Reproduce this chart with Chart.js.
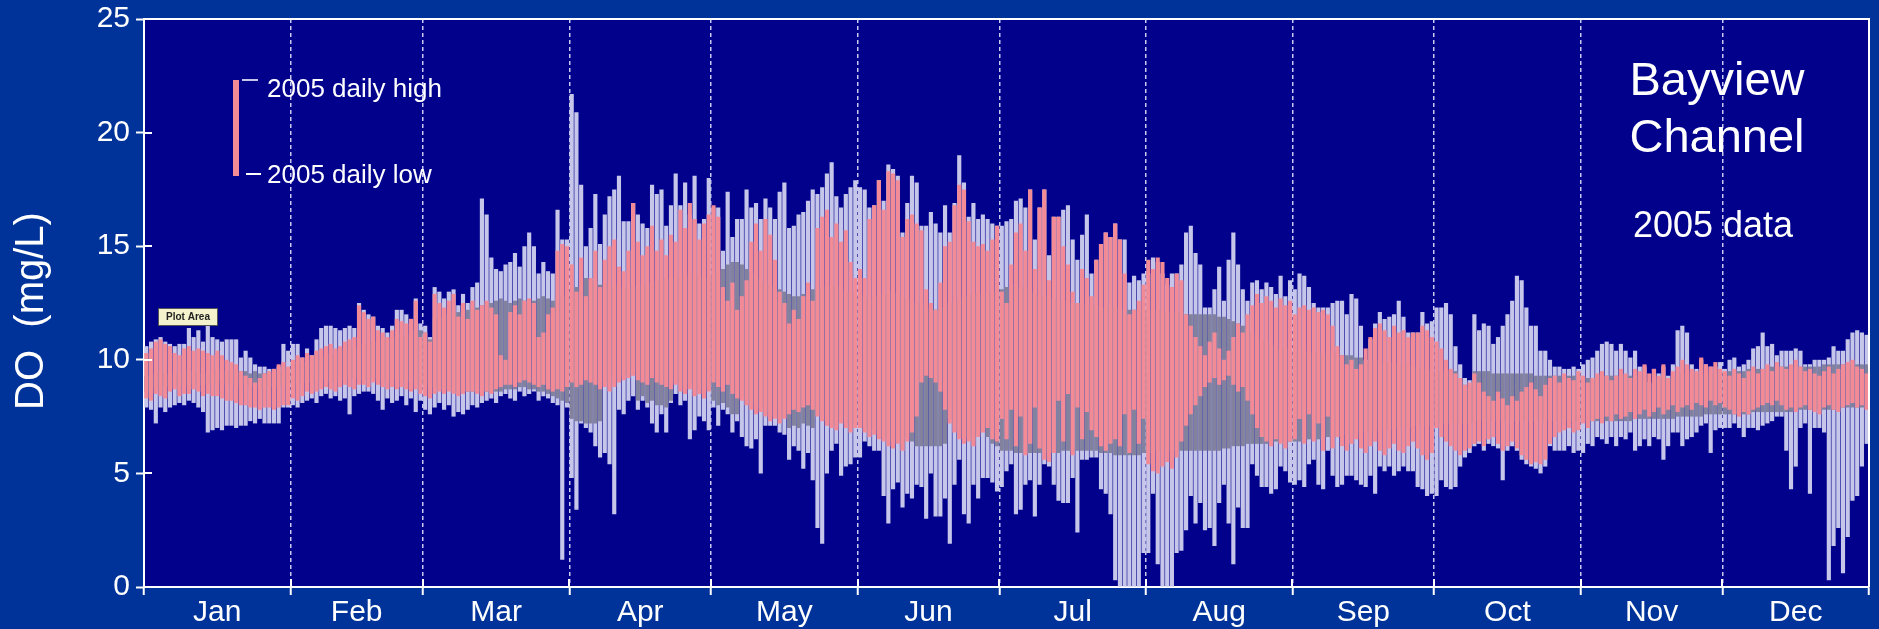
<!DOCTYPE html>
<html>
<head>
<meta charset="utf-8">
<script src="https://cdn.jsdelivr.net/npm/chart.js@4.4.0/dist/chart.umd.min.js"></script>
<style>
  html, body { margin: 0; padding: 0; background: #003399; }
  #wrap { width: 1879px; height: 629px; }
</style>
</head>
<body>
<div id="wrap"><canvas id="c" width="1879" height="629"></canvas></div>
<script>
// Dissolved oxygen, Bayview Channel: one bar per day of the year (mg/L)
const months = ['Jan','Feb','Mar','Apr','May','Jun','Jul','Aug','Sep','Oct','Nov','Dec'];
const monthStarts = [0,31,59,90,120,151,181,212,243,273,304,334,365];
const yTicks = [0,5,10,15,20,25];

// Long-term daily range (light band)
const rangeHigh = [
  10.6,10.8,10.9,11.0,10.8,10.7,10.6,10.7,10.7,11.4,11.0,11.3,10.8,11.5,11.0,10.9,10.8,10.9,10.9,10.9,10.1,10.4,10.1,9.8,9.7,9.7,9.6,9.6,9.7,10.7,10.4,
  10.7,10.7,10.1,10.5,10.2,10.9,11.4,11.5,11.5,11.4,11.3,11.4,11.5,11.4,12.5,12.2,12.0,11.9,11.5,11.4,11.2,11.5,12.2,12.2,12.0,11.8,12.7,11.6,
  11.5,11.0,13.2,13.0,12.7,13.0,13.1,12.4,12.9,12.5,13.2,13.4,17.1,16.4,14.5,14.0,13.9,14.2,14.3,14.7,14.1,15.0,15.6,15.0,13.8,14.3,13.9,13.8,16.6,15.3,15.3,
  21.7,20.9,17.7,15.0,15.8,17.3,15.1,16.4,17.2,17.5,18.1,16.1,16.1,16.9,16.4,16.0,15.8,17.7,17.3,17.5,15.9,16.8,18.2,16.8,17.8,16.4,18.1,16.0,16.2,18.0,
  16.7,16.7,14.8,17.4,15.4,16.2,16.2,17.5,16.7,16.9,16.2,17.1,16.7,16.2,17.4,17.8,15.8,15.9,16.4,16.5,17.0,17.5,17.3,17.6,18.2,18.7,17.2,16.7,17.3,17.6,17.9,
  17.6,17.5,16.7,16.8,17.9,17.0,18.6,18.4,18.1,15.6,16.9,18.1,17.8,15.9,15.9,16.5,16.0,15.6,16.8,15.6,16.9,19.0,17.8,16.3,16.9,16.2,16.4,16.2,16.0,15.9,
  15.9,16.1,16.2,17.0,17.1,16.7,17.5,15.3,16.7,17.5,14.6,16.3,16.3,16.6,16.8,15.3,14.4,15.5,16.4,13.8,14.4,15.1,15.6,15.4,16.0,15.3,15.3,13.4,13.7,13.5,13.8,
  13.8,14.5,14.3,13.8,13.3,13.8,13.8,14.2,15.6,15.9,14.7,14.2,12.3,12.3,13.1,14.1,12.6,14.4,15.6,14.2,13.1,12.6,13.4,13.5,13.1,13.4,13.2,12.9,13.7,12.8,13.5,
  13.1,13.8,13.7,13.2,12.5,12.3,12.3,12.3,12.5,12.6,12.6,12.0,12.9,12.7,11.5,10.0,10.9,11.6,12.1,11.8,11.9,12.0,12.6,11.9,11.2,11.2,11.2,12.1,11.6,11.7,
  12.3,12.3,12.5,12.0,10.6,9.8,9.2,9.1,12.0,11.3,11.6,11.5,10.7,11.0,11.5,12.0,12.6,13.7,13.5,12.3,11.5,11.5,10.4,10.4,10.0,9.7,9.7,9.6,9.6,9.7,9.6,
  9.8,10.0,10.1,10.4,10.7,10.8,10.7,10.4,10.7,10.4,10.1,10.4,9.7,9.7,9.0,9.6,9.4,9.7,9.3,9.8,11.3,11.5,11.2,9.8,9.6,10.0,9.8,9.7,9.7,9.9,
  9.6,10.0,10.1,9.7,9.8,10.0,10.5,10.6,11.2,10.6,10.7,10.2,10.4,10.4,10.4,10.5,10.4,9.8,9.8,10.0,10.0,10.0,10.1,10.6,10.4,10.4,10.9,11.2,11.3,11.2,11.1
];
const rangeLow = [
  7.9,7.8,7.2,7.9,7.7,7.9,8.0,8.1,8.0,8.2,8.1,7.9,7.7,6.8,6.9,7.0,6.9,7.1,7.1,7.0,7.1,7.1,7.3,7.2,7.4,7.2,7.2,7.2,7.2,7.9,7.9,
  8.0,7.9,8.1,8.2,8.3,8.1,8.4,8.5,8.3,8.4,8.2,8.3,7.6,8.4,8.5,8.6,8.6,8.5,8.2,7.8,8.3,8.1,8.2,8.4,8.0,8.3,7.7,8.2,
  7.8,7.6,7.9,8.1,7.8,8.0,7.5,7.7,7.6,7.8,8.0,7.9,8.1,8.2,8.3,8.1,8.4,8.5,8.3,8.2,8.6,8.4,8.5,8.6,8.2,8.4,8.3,8.1,8.0,1.2,7.9,
  4.8,3.4,7.2,7.0,6.8,6.2,5.7,5.9,5.4,3.2,7.8,7.6,8.2,8.4,7.8,8.2,7.9,7.2,6.8,7.6,6.8,8.1,8.5,8.0,8.2,6.5,6.9,7.5,7.3,6.9,
  7.9,7.1,7.8,7.6,6.8,7.3,6.6,6.2,6.1,6.5,5.0,7.1,7.1,7.1,6.8,6.7,5.6,6.2,6.0,5.2,5.9,4.7,2.6,1.9,5.0,6.0,6.3,4.9,5.3,5.4,5.7,
  5.7,6.4,6.2,6.0,6.0,4.0,2.8,4.3,4.6,3.5,4.1,3.9,4.5,4.4,3.0,5.0,3.1,3.1,3.9,1.9,4.5,5.6,3.2,2.8,4.5,3.9,4.8,4.8,4.6,4.2,
  4.4,5.1,5.4,3.2,3.4,4.5,4.7,3.1,4.5,5.4,5.3,4.5,3.8,3.7,3.7,4.8,2.4,5.6,5.6,5.7,5.7,4.3,4.1,3.2,0.3,0,0,0,0,0,1.5,
  1.5,4.1,1.0,0,0,0,1.5,1.6,2.5,4.0,2.8,3.7,2.5,2.6,1.8,3.7,4.5,2.8,1.0,3.5,2.6,2.6,5.4,4.9,4.4,4.4,4.1,4.3,5.3,5.1,4.6,
  4.5,4.7,4.4,5.4,5.6,4.5,4.3,6.0,4.9,4.4,4.5,4.9,4.9,4.7,4.5,4.4,4.9,4.1,5.3,5.1,5.3,4.9,5.1,5.3,5.1,5.1,4.4,4.3,4.0,4.1,
  4.0,4.7,4.4,4.3,4.4,5.3,5.7,5.9,6.2,6.3,6.0,6.3,6.2,6.1,4.7,6.0,6.2,6.0,5.6,5.4,5.3,5.2,5.0,5.3,6.2,6.0,6.0,6.0,6.2,5.9,6.0,
  5.9,6.3,6.2,6.6,6.5,6.3,6.6,6.2,6.6,6.5,6.8,6.0,6.2,6.5,6.2,6.6,6.5,5.6,6.2,6.8,6.8,6.2,6.5,6.6,6.8,7.1,7.2,5.9,6.9,7.0,
  7.0,7.0,7.2,7.0,6.6,7.0,7.0,6.9,7.1,7.2,7.3,7.5,7.5,6.0,4.3,5.3,7.0,7.2,4.1,7.0,7.0,6.8,0.3,1.8,2.6,0.6,2.2,3.8,4.0,5.3,6.3
];

// Middle band (dark grey)
const bandHigh = [
  9.3,9.4,9.4,9.5,9.4,9.3,9.4,9.5,9.5,9.6,9.5,9.4,9.5,9.4,9.5,9.6,9.5,9.5,9.6,9.6,9.5,9.5,9.4,9.5,9.4,9.4,9.4,9.5,9.5,9.6,9.6,
  9.8,9.9,9.9,10.0,10.0,10.1,10.2,10.2,10.3,10.3,10.4,10.4,10.5,10.5,10.6,10.7,10.7,10.8,10.8,10.9,10.9,11.0,11.0,11.1,11.1,11.2,11.3,11.3,
  11.2,10.9,11.8,11.9,12.0,12.0,12.1,12.1,12.2,12.2,12.3,12.3,12.4,12.5,12.5,12.6,12.7,12.6,12.5,12.6,12.7,12.6,12.5,12.6,12.7,12.8,12.7,12.6,12.7,12.8,12.9,
  13.0,13.2,13.5,13.6,13.5,13.4,13.3,13.4,13.3,13.3,13.2,13.1,13.2,13.3,13.2,13.3,13.4,13.4,13.5,13.5,13.6,13.5,13.6,13.7,13.7,13.8,13.8,13.7,13.6,13.6,
  13.8,13.9,14.0,14.2,14.3,14.3,14.2,14.0,13.8,13.6,13.5,13.4,13.3,13.2,13.1,13.0,12.9,12.8,12.8,12.9,13.0,13.1,13.2,13.2,13.3,13.3,13.2,13.1,13.0,13.0,12.9,
  12.9,12.8,12.7,12.8,12.8,12.9,13.0,13.0,12.9,12.8,12.7,12.6,12.5,12.4,12.3,12.2,12.2,12.3,12.4,12.5,12.6,12.7,12.8,12.8,12.9,12.9,13.0,13.0,13.0,13.1,
  13.1,13.2,13.3,13.3,13.2,13.1,13.0,12.9,12.8,12.8,12.7,12.7,12.6,12.6,12.6,12.5,12.5,12.5,12.4,12.4,12.4,12.3,12.3,12.3,12.3,12.3,12.2,12.2,12.2,12.2,12.2,
  12.2,12.2,12.2,12.2,12.1,12.1,12.1,12.1,12.0,12.0,12.0,12.0,12.0,12.0,12.0,11.9,11.9,11.8,11.7,11.6,11.5,11.4,11.2,11.0,10.9,10.8,10.7,10.6,10.5,10.5,10.4,
  10.4,10.4,10.4,10.3,10.3,10.3,10.3,10.3,10.3,10.3,10.2,10.2,10.2,10.1,10.1,9.9,10.0,10.0,10.0,9.9,9.9,9.9,9.8,9.8,9.8,9.7,9.7,9.6,9.6,9.5,
  9.5,9.5,9.5,9.5,9.5,9.1,8.9,8.8,9.5,9.5,9.5,9.5,9.4,9.4,9.4,9.4,9.4,9.4,9.4,9.4,9.4,9.3,9.3,9.3,9.3,9.3,9.3,9.3,9.3,9.3,9.3,
  9.2,9.2,9.2,9.3,9.3,9.3,9.3,9.3,9.3,9.3,9.3,9.3,9.3,9.2,8.9,9.2,9.2,9.3,9.2,9.3,9.3,9.4,9.4,9.4,9.4,9.4,9.4,9.4,9.5,9.5,
  9.4,9.5,9.5,9.5,9.5,9.6,9.6,9.6,9.6,9.6,9.7,9.7,9.7,9.7,9.7,9.7,9.7,9.7,9.7,9.7,9.7,9.8,9.8,9.8,9.8,9.8,9.8,9.8,9.8,9.8,9.8
];
const bandLow = [
  8.6,8.6,8.7,8.7,8.8,8.8,8.8,8.9,8.9,8.8,8.9,8.9,9.0,8.9,8.9,9.0,9.0,8.9,8.9,8.8,8.8,8.9,8.8,8.8,8.7,8.7,8.8,8.8,8.8,8.9,8.9,
  8.9,8.9,9.0,9.0,9.0,9.1,9.1,9.1,9.0,9.0,9.1,9.1,9.2,9.2,9.1,9.1,9.2,9.2,9.1,9.1,9.0,9.0,9.1,9.1,9.0,9.0,8.9,8.9,
  8.9,8.8,8.8,8.7,8.7,8.7,8.6,8.6,8.6,8.6,8.6,8.6,8.6,8.6,8.6,8.6,8.6,8.7,8.7,8.7,8.8,8.8,8.7,8.7,8.6,8.6,8.5,8.4,8.3,8.2,8.1,
  7.4,7.3,7.3,7.2,7.2,7.2,7.3,9.0,8.9,9.0,9.2,9.3,9.4,9.5,8.2,8.4,8.1,8.2,8.0,8.0,7.9,8.2,9.0,8.8,8.7,8.9,8.6,8.7,8.5,8.8,
  8.2,8.0,8.1,7.9,7.6,7.6,8.4,8.2,8.0,7.8,7.9,7.7,7.5,7.6,7.4,7.6,7.0,7.1,7.0,7.2,7.1,7.0,7.7,7.5,7.3,7.2,7.1,7.4,7.2,7.0,7.2,
  7.2,7.0,6.8,6.9,6.7,6.6,6.4,6.3,6.5,6.2,6.6,6.4,6.2,6.2,6.2,6.2,6.2,6.2,6.3,7.4,7.0,6.7,6.5,6.6,6.4,6.8,7.0,6.6,6.3,6.2,
  6.0,6.0,6.0,5.9,5.9,5.9,5.9,5.9,5.9,5.9,5.9,5.9,5.9,6.0,6.0,6.0,6.0,6.0,6.0,6.0,6.0,5.9,5.9,5.9,5.8,5.8,5.8,5.8,5.8,5.8,5.9,
  5.9,5.9,6.0,6.0,6.0,6.0,6.0,6.0,6.0,6.0,6.0,6.0,6.0,6.0,6.0,6.0,6.1,6.1,6.2,6.2,6.2,6.3,6.3,6.3,6.3,6.3,6.3,6.4,6.4,6.4,6.4,
  6.4,6.4,6.5,6.5,6.5,6.5,6.6,6.6,6.6,6.6,6.7,6.7,6.7,6.7,6.8,6.8,6.8,6.8,6.9,6.9,6.9,6.9,7.0,7.0,7.0,7.0,7.1,7.1,7.1,7.1,
  7.2,7.2,7.2,7.2,7.2,7.2,7.2,7.2,7.3,7.3,7.3,7.3,7.3,7.3,7.3,7.3,7.3,7.3,7.3,7.3,7.3,7.3,7.3,7.3,7.3,7.3,7.3,7.3,7.3,7.3,7.3,
  7.3,7.3,7.3,7.3,7.3,7.3,7.3,7.3,7.3,7.3,7.3,7.4,7.4,7.4,7.4,7.4,7.4,7.4,7.4,7.4,7.5,7.5,7.5,7.5,7.5,7.5,7.6,7.6,7.6,7.6,
  7.6,7.6,7.6,7.6,7.6,7.6,7.7,7.7,7.7,7.7,7.7,7.7,7.7,7.7,7.7,7.8,7.8,7.8,7.8,7.8,7.8,7.8,7.8,7.8,7.9,7.9,7.9,7.9,7.9,7.9,7.9
];

// 2005 daily high and low
const high2005 = [
  10.3,10.5,10.8,10.9,10.7,10.6,10.3,10.2,10.5,10.6,10.4,10.5,10.4,10.3,10.2,10.4,10.2,10.0,9.9,9.8,9.5,9.3,9.2,9.0,9.2,9.4,9.5,9.6,9.8,9.9,9.7,
  10.0,10.2,10.1,10.3,10.2,10.4,10.5,10.6,10.7,10.5,10.6,10.8,10.9,11.0,12.4,12.1,11.8,11.9,11.3,11.2,11.0,11.3,11.8,11.7,11.6,11.8,12.6,11.0,
  11.2,10.8,12.9,12.5,12.3,12.6,12.9,11.9,12.5,11.8,12.6,12.2,12.4,12.6,12.3,12.0,10.2,10.0,12.1,12.4,12.0,12.6,12.7,12.5,11.0,11.2,12.0,12.3,14.8,15.1,15.0,
  14.2,13.0,14.5,12.8,13.6,14.8,13.2,14.4,15.0,15.3,14.1,13.9,14.8,16.9,15.2,14.6,15.0,15.9,14.8,15.3,14.6,15.5,15.2,16.6,15.8,16.9,16.2,15.3,16.0,16.4,
  16.8,16.3,13.2,12.6,13.4,12.2,12.8,13.5,15.2,16.0,14.8,16.2,15.5,14.4,13.0,12.5,11.6,12.2,11.8,12.8,13.4,12.6,15.8,16.3,16.6,15.4,16.0,15.2,15.7,14.3,13.6,
  14.0,13.6,16.2,16.8,17.9,16.6,18.3,18.2,17.9,15.4,16.2,16.4,16.0,15.7,13.1,12.5,12.2,13.4,15.0,15.2,16.8,17.7,17.5,16.1,15.2,15.0,15.1,14.8,15.3,15.9,
  13.0,12.5,14.2,15.6,16.0,14.8,17.5,14.0,16.7,17.5,13.5,16.3,16.3,15.0,14.2,13.0,12.5,14.0,13.6,12.8,14.4,15.1,15.6,15.4,16.0,15.3,13.8,12.0,12.2,12.6,13.3,
  14.4,14.0,14.5,14.3,13.6,13.2,13.8,13.5,12.0,11.5,11.0,10.6,10.2,10.8,11.2,10.5,10.0,10.4,11.0,11.6,11.2,12.0,12.4,12.9,12.5,12.8,12.6,12.3,12.7,12.4,12.6,
  12.0,12.3,12.4,12.2,12.3,12.1,12.2,12.0,11.5,10.6,10.2,9.8,10.0,9.6,9.8,10.5,11.0,11.4,11.6,11.3,11.0,11.5,11.2,11.3,11.0,11.2,11.2,11.5,11.3,11.0,
  10.8,10.5,10.0,9.6,9.4,9.2,8.9,9.0,9.4,9.0,8.6,8.4,8.2,8.6,8.3,8.0,8.4,8.2,8.6,8.8,9.0,8.7,8.4,8.9,9.2,9.3,9.0,9.4,9.2,9.1,9.5,
  9.3,9.0,9.2,9.4,9.5,9.3,9.1,9.3,9.6,9.4,9.2,9.6,9.5,9.8,9.4,9.6,9.3,9.8,9.2,9.5,9.7,10.0,9.8,9.6,9.5,10.1,9.8,9.7,9.9,9.6,
  9.5,9.3,9.6,9.4,9.2,9.5,9.7,9.4,9.6,9.8,9.5,9.9,9.7,9.6,9.8,10.0,9.7,9.5,9.6,9.4,9.3,9.5,9.7,9.4,9.6,9.8,9.9,10.0,9.7,9.6,9.4
];
const low2005 = [
  8.3,8.2,8.5,8.4,8.3,8.6,8.7,8.4,8.5,8.5,8.7,8.6,8.4,8.5,8.4,8.4,8.3,8.2,8.2,8.1,8.0,8.0,7.9,7.9,7.8,7.9,7.9,7.8,7.9,8.0,8.0,
  8.3,8.2,8.4,8.6,8.5,8.6,8.7,8.8,8.7,8.6,8.8,8.9,8.8,8.7,8.9,8.9,8.8,9.0,8.9,8.8,8.7,8.8,8.7,8.8,8.7,8.6,8.7,8.5,
  8.4,8.3,8.5,8.6,8.5,8.6,8.5,8.4,8.5,8.6,8.6,8.5,8.4,8.6,8.5,8.7,8.8,8.9,8.9,8.8,9.0,9.1,9.0,8.9,8.8,8.9,8.7,8.6,8.7,8.6,8.8,
  9.0,8.8,8.9,9.1,9.0,8.9,8.7,8.8,8.6,8.8,9.0,9.1,9.2,9.3,9.1,9.0,8.9,9.2,9.0,8.9,8.8,8.7,8.9,8.6,8.5,8.7,8.4,8.5,8.3,8.6,
  9.0,8.8,8.6,8.9,8.5,8.3,8.2,8.0,7.8,7.6,7.7,7.5,7.3,7.4,7.2,7.4,7.6,7.8,7.7,7.9,8.0,7.8,7.5,7.3,7.1,7.0,6.9,7.2,7.0,6.8,7.0,
  7.0,6.8,6.6,6.7,6.5,6.4,6.2,6.1,6.3,6.0,6.4,6.8,7.5,9.0,9.3,9.2,9.0,8.6,7.8,7.2,6.8,6.5,6.3,6.4,6.2,6.6,6.8,7.0,6.5,6.4,
  7.4,6.5,7.8,6.2,7.5,5.8,6.3,7.9,6.1,5.6,5.5,5.9,8.2,6.4,8.5,5.8,7.9,6.5,7.7,6.9,6.6,6.2,6.0,6.3,6.5,6.2,7.6,5.9,7.8,6.3,7.4,
  5.4,5.1,5.0,5.3,5.5,5.2,5.7,6.4,7.1,7.6,8.0,8.4,8.8,9.0,9.2,8.9,9.1,9.3,8.9,8.6,8.8,8.2,7.6,7.0,6.6,6.4,6.2,6.5,6.3,6.1,6.4,
  6.5,7.4,6.3,7.6,6.4,7.2,6.0,7.5,6.1,6.6,6.2,6.0,6.3,6.5,6.1,5.9,6.2,6.4,6.0,5.8,6.1,6.3,6.0,5.9,6.2,6.4,6.1,5.8,5.6,5.9,
  7.0,6.6,6.4,6.2,6.0,5.8,6.0,6.1,6.3,6.4,6.2,6.5,6.6,6.3,6.0,6.2,6.4,6.1,5.8,5.6,5.4,5.5,5.4,5.6,6.3,6.6,6.8,6.9,7.0,6.8,6.9,
  7.2,7.0,7.3,7.4,7.2,7.5,7.3,7.6,7.4,7.5,7.7,7.4,7.6,7.8,7.5,7.7,7.9,7.6,7.8,8.0,7.7,7.9,8.0,7.8,8.1,8.0,7.9,8.2,8.0,8.1,
  7.9,7.8,7.6,7.5,7.7,7.6,7.8,7.9,8.0,8.1,8.0,8.2,8.0,7.8,7.9,7.7,7.9,8.0,7.8,7.7,7.6,7.9,8.0,7.8,7.7,7.9,8.0,8.1,7.9,8.0,7.8
];

const COLORS = {
  page: '#003399',
  plot: '#01018c',
  range: '#c6c6ea',
  band: '#82829f',
  y2005: '#f38b97',
  dash: '#c8c8f0',
  text: '#ffffff'
};
const FONT = "'Liberation Sans', Arial, Helvetica, sans-serif";
Chart.defaults.font.family = FONT;

// x positions: centre of each day
const dayCentres = rangeHigh.map((_, i) => i + 0.5);
const toBars = (lo, hi) => lo.map((v, i) => ({ x: dayCentres[i], y: [v, hi[i]] }));

const monthMids = months.map((_, i) => (monthStarts[i] + monthStarts[i + 1]) / 2);
const xTickValues = monthStarts.concat(monthMids).sort((a, b) => a - b);
const isMonthStart = v => monthStarts.includes(v);

const barStyle = { grouped: false, barPercentage: 0.88, categoryPercentage: 1, borderWidth: 0 };

const decorations = {
  id: 'decorations',
  beforeDraw(chart) {
    const { ctx, chartArea: a } = chart;
    ctx.save();
    ctx.fillStyle = COLORS.page;
    ctx.fillRect(0, 0, chart.width, chart.height);
    ctx.fillStyle = COLORS.plot;
    ctx.fillRect(a.left, a.top, a.right - a.left, a.bottom - a.top);
    ctx.restore();
  },
  afterDraw(chart) {
    const { ctx, chartArea: a, scales } = chart;
    ctx.save();
    // frame on top and right
    ctx.strokeStyle = COLORS.text;
    ctx.lineWidth = 2;
    ctx.beginPath();
    ctx.moveTo(a.left, a.top);
    ctx.lineTo(a.right, a.top);
    ctx.lineTo(a.right, a.bottom);
    ctx.stroke();

    // tick marks continue a little way inside the plot
    ctx.beginPath();
    yTicks.slice(1, -1).forEach(v => {
      const y = Math.round(scales.y.getPixelForValue(v));
      ctx.moveTo(a.left, y);
      ctx.lineTo(a.left + 8, y);
    });
    monthStarts.slice(1, -1).forEach(v => {
      const x = Math.round(scales.x.getPixelForValue(v));
      ctx.moveTo(x, a.bottom);
      ctx.lineTo(x, a.bottom - 8);
    });
    ctx.stroke();

    // y axis title
    ctx.save();
    ctx.translate(32, (a.top + a.bottom) / 2 + 8);
    ctx.rotate(-Math.PI / 2);
    ctx.fillStyle = COLORS.text;
    ctx.font = '40px ' + FONT;
    ctx.textAlign = 'center';
    ctx.textBaseline = 'middle';
    ctx.fillText('DO  (mg/L)', 0, 0);
    ctx.restore();

    // legend
    ctx.fillStyle = COLORS.y2005;
    ctx.fillRect(a.left + 89, a.top + 61, 6, 96);
    ctx.fillStyle = COLORS.range;
    ctx.fillRect(a.left + 98, a.top + 60, 16, 2);
    ctx.fillStyle = COLORS.text;
    ctx.fillRect(a.left + 102, a.top + 154, 15, 2);
    ctx.font = '26px ' + FONT;
    ctx.textAlign = 'left';
    ctx.textBaseline = 'alphabetic';
    ctx.fillText('2005 daily high', a.left + 123, a.top + 78);
    ctx.fillText('2005 daily low', a.left + 123, a.top + 164);

    // station name
    ctx.textAlign = 'center';
    ctx.font = '47px ' + FONT;
    ctx.fillText('Bayview', a.right - 152, a.top + 76);
    ctx.fillText('Channel', a.right - 152, a.top + 133);
    ctx.font = '36px ' + FONT;
    ctx.fillText('2005 data', a.right - 156, a.top + 218);

    // small hover label
    const bx = a.left + 14, by = a.top + 289;
    ctx.fillStyle = '#f4f2cc';
    ctx.fillRect(bx, by, 60, 18);
    ctx.strokeStyle = '#555555';
    ctx.lineWidth = 1;
    ctx.strokeRect(bx + 0.5, by + 0.5, 59, 17);
    ctx.fillStyle = '#222222';
    ctx.font = 'bold 10px ' + FONT;
    ctx.textAlign = 'center';
    ctx.textBaseline = 'middle';
    ctx.fillText('Plot Area', bx + 30, by + 9.5);
    ctx.restore();
  }
};

new Chart(document.getElementById('c'), {
  type: 'bar',
  data: {
    datasets: [
      Object.assign({ label: '2005 daily range', data: toBars(low2005, high2005), backgroundColor: COLORS.y2005, order: 1 }, barStyle),
      Object.assign({ label: 'middle band', data: toBars(bandLow, bandHigh), backgroundColor: COLORS.band, order: 2 }, barStyle),
      Object.assign({ label: 'daily range', data: toBars(rangeLow, rangeHigh), backgroundColor: COLORS.range, order: 3 }, barStyle)
    ]
  },
  options: {
    responsive: false,
    animation: false,
    events: [],
    layout: { padding: { top: 19, right: 10, left: 0, bottom: 0 } },
    plugins: { legend: { display: false }, tooltip: { enabled: false } },
    scales: {
      x: {
        type: 'linear',
        min: 0,
        max: 365,
        offset: false,
        afterBuildTicks(axis) { axis.ticks = xTickValues.map(v => ({ value: v })); },
        afterFit(axis) { axis.height = 42; },
        grid: {
          offset: false,
          color: c => (c.tick && isMonthStart(c.tick.value)) ? COLORS.dash : 'rgba(0,0,0,0)',
          lineWidth: 1.5,
          tickColor: c => (c.tick && isMonthStart(c.tick.value)) ? COLORS.text : 'rgba(0,0,0,0)',
          tickLength: 8,
          tickWidth: 2
        },
        border: { display: true, color: COLORS.text, width: 2, dash: [4, 3] },
        ticks: {
          autoSkip: false,
          maxRotation: 0,
          minRotation: 0,
          color: COLORS.text,
          padding: 0,
          font: { size: 30 },
          callback: v => { const i = monthMids.indexOf(v); return i >= 0 ? months[i] : ''; }
        }
      },
      y: {
        min: 0,
        max: 25,
        afterBuildTicks(axis) { axis.ticks = yTicks.map(v => ({ value: v })); },
        afterFit(axis) { axis.width = 144; },
        grid: { drawOnChartArea: false, color: COLORS.text, tickLength: 8, tickWidth: 2 },
        border: { display: true, color: COLORS.text, width: 2 },
        ticks: { color: COLORS.text, padding: 6, font: { size: 30, lineHeight: 0.8 } }
      }
    }
  },
  plugins: [decorations]
});
</script>
</body>
</html>
